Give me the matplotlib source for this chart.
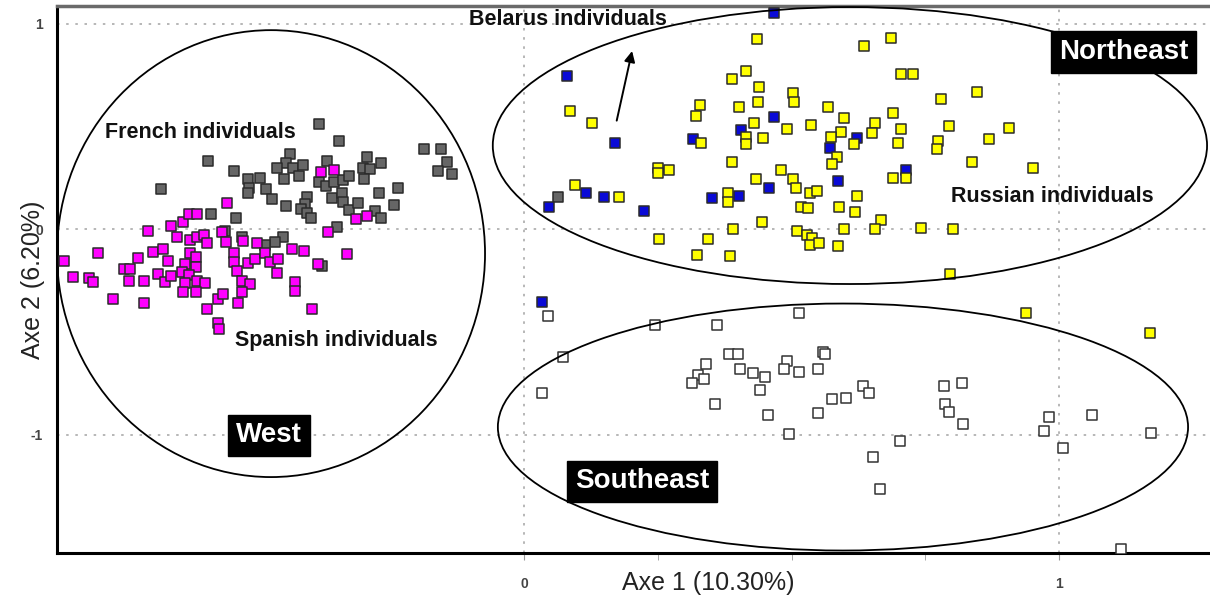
import matplotlib
matplotlib.use("Agg")
import matplotlib.pyplot as plt
from matplotlib.patches import Ellipse
import matplotlib.ticker as plticker

## Data (Axe 1 / Axe 2 scores)

french_x = [-0.383, -0.346, -0.187, -0.156, -0.144, -0.160, -0.135, -0.591, -0.543, -0.679,
            -0.437, -0.445, -0.461, -0.432, -0.414, -0.420, -0.449, -0.493, -0.516, -0.514,
            -0.516, -0.483, -0.472, -0.445, -0.406, -0.409, -0.417, -0.405, -0.398, -0.369,
            -0.383, -0.371, -0.356, -0.339, -0.328, -0.359, -0.341, -0.339, -0.327, -0.310,
            -0.294, -0.301, -0.288, -0.267, -0.299, -0.272, -0.235, -0.244, -0.279, -0.267,
            -0.349, -0.586, -0.539, -0.451, -0.465, -0.484, -0.528, -0.559, -0.378, 0.064]
french_y = [0.512, 0.431, 0.391, 0.391, 0.329, 0.284, 0.269, 0.334, 0.284, 0.195,
            0.366, 0.321, 0.297, 0.297, 0.313, 0.259, 0.243, 0.251, 0.243, 0.200,
            0.178, 0.195, 0.147, 0.113, 0.159, 0.122, 0.097, 0.081, 0.054, 0.332,
            0.232, 0.211, 0.232, 0.240, 0.259, 0.151, 0.175, 0.134, 0.094, 0.127,
            0.350, 0.297, 0.293, 0.321, 0.243, 0.178, 0.200, 0.118, 0.091, 0.054,
            0.013, 0.074, 0.054, -0.036, -0.060, -0.076, -0.036, -0.008, -0.177, 0.156]

spanish_x = [-0.860, -0.844, -0.813, -0.805, -0.796, -0.768, -0.748, -0.736, -0.738, -0.722,
             -0.710, -0.710, -0.702, -0.693, -0.674, -0.665, -0.685, -0.672, -0.659, -0.659,
             -0.648, -0.637, -0.626, -0.612, -0.624, -0.612, -0.599, -0.593, -0.624, -0.614,
             -0.614, -0.634, -0.640, -0.627, -0.612, -0.634, -0.596, -0.637, -0.614, -0.593,
             -0.573, -0.562, -0.573, -0.570, -0.556, -0.565, -0.558, -0.543, -0.542, -0.536,
             -0.528, -0.512, -0.528, -0.534, -0.526, -0.500, -0.516, -0.503, -0.485, -0.475,
             -0.460, -0.462, -0.434, -0.411, -0.428, -0.429, -0.397, -0.386, -0.366, -0.331,
             -0.314, -0.294, -0.380, -0.355]
spanish_y = [-0.154, -0.234, -0.236, -0.258, -0.117, -0.339, -0.193, -0.193, -0.252, -0.138,
             -0.252, -0.360, -0.007, -0.112, -0.096, -0.154, -0.219, -0.258, -0.227, 0.016,
             -0.036, 0.037, 0.074, 0.073, -0.052, -0.036, -0.028, -0.068, -0.117, -0.133,
             -0.182, -0.170, -0.209, -0.222, -0.252, -0.260, -0.260, -0.304, -0.304, -0.389,
             -0.341, -0.316, -0.455, -0.487, 0.127, -0.012, -0.063, -0.114, -0.158, -0.203,
             -0.252, -0.266, -0.304, -0.360, -0.057, -0.068, -0.165, -0.146, -0.117, -0.158,
             -0.146, -0.214, -0.097, -0.104, -0.255, -0.299, -0.389, -0.169, -0.015, -0.122,
             0.049, 0.065, 0.277, 0.289]

belarus_x = [0.467, 0.081, 0.169, 0.047, 0.115, 0.150, 0.225, 0.316, 0.351, 0.402,
             0.405, 0.467, 0.457, 0.571, 0.587, 0.622, 0.713, 0.033]
belarus_y = [1.054, 0.746, 0.421, 0.110, 0.178, 0.156, 0.091, 0.438, 0.151, 0.162,
             0.483, 0.548, 0.200, 0.394, 0.236, 0.443, 0.289, -0.355]

russian_x = [0.435, 0.086, 0.127, 0.095, 0.178, 0.251, 0.251, 0.271, 0.252, 0.323,
             0.344, 0.385, 0.329, 0.321, 0.331, 0.389, 0.414, 0.439, 0.437, 0.402,
             0.430, 0.414, 0.414, 0.447, 0.388, 0.382, 0.382, 0.391, 0.433, 0.445,
             0.480, 0.502, 0.505, 0.491, 0.536, 0.568, 0.597, 0.592, 0.573, 0.584,
             0.575, 0.502, 0.508, 0.535, 0.547, 0.518, 0.530, 0.589, 0.510, 0.528,
             0.538, 0.535, 0.552, 0.587, 0.598, 0.636, 0.685, 0.704, 0.727, 0.779,
             0.846, 0.690, 0.656, 0.650, 0.704, 0.698, 0.616, 0.795, 0.774, 0.771,
             0.869, 0.907, 0.838, 0.952, 0.689, 0.713, 0.622, 0.619, 0.667, 0.656,
             0.741, 0.801, 0.796, 0.939, 1.170]
russian_y = [0.925, 0.577, 0.516, 0.216, 0.156, 0.297, 0.273, 0.289, -0.049, -0.125,
             -0.049, -0.130, 0.605, 0.553, 0.421, 0.731, 0.770, 0.694, 0.621, 0.597,
             0.516, 0.451, 0.415, 0.446, 0.326, 0.178, 0.134, 0.000, 0.243, 0.037,
             0.289, 0.665, 0.621, 0.487, 0.508, 0.597, 0.540, 0.475, 0.451, 0.350,
             0.318, 0.245, 0.200, 0.178, 0.188, 0.110, 0.102, 0.110, -0.007, -0.028,
             -0.044, -0.076, -0.065, -0.081, 0.000, 0.893, 0.932, 0.754, 0.754, 0.634,
             0.667, 0.567, 0.519, 0.467, 0.488, 0.421, 0.414, 0.503, 0.431, 0.391,
             0.438, 0.494, 0.326, 0.297, 0.251, 0.248, 0.162, 0.083, 0.045, 0.000,
             0.005, 0.000, -0.219, -0.406, -0.503]

southeast_x = [0.045, 0.245, 0.361, 0.513, 0.072, 0.033, 0.340, 0.383, 0.400, 0.325,
               0.336, 0.314, 0.404, 0.427, 0.451, 0.441, 0.357, 0.456, 0.492, 0.486,
               0.513, 0.550, 0.559, 0.563, 0.496, 0.550, 0.576, 0.601, 0.633, 0.644,
               0.702, 0.653, 0.666, 0.784, 0.818, 0.786, 0.795, 0.820, 0.982, 0.972,
               1.007, 1.062, 1.172, 1.115]
southeast_y = [-0.420, -0.466, -0.466, -0.406, -0.623, -0.798, -0.657, -0.607, -0.607, -0.709,
               -0.730, -0.746, -0.680, -0.701, -0.717, -0.782, -0.850, -0.904, -0.641, -0.681,
               -0.693, -0.680, -0.596, -0.607, -0.998, -0.895, -0.826, -0.819, -0.761, -0.798,
               -1.029, -1.109, -1.264, -0.763, -0.749, -0.850, -0.888, -0.947, -0.915, -0.982,
               -1.066, -0.904, -0.990, -1.557]

# group ellipses: name, centre, width, height
region_names = ["West", "Northeast", "Southeast"]
region_centres = [(-0.473, -0.118), (0.609, 0.408), (0.596, -0.962)]
region_widths = [0.800, 1.335, 1.290]
region_heights = [2.175, 1.348, 1.202]
region_label_pos = [(-0.477, -1.003), (1.120, 0.863), (0.221, -1.227)]

## Plot

plt.rcParams['font.family'] = ['Liberation Sans', 'DejaVu Sans']
plt.rcParams['axes.unicode_minus'] = False

fig = plt.figure(figsize=(12.1, 6.01), dpi=100)
ax = fig.add_axes([57 / 1210, 48 / 601, 1153 / 1210, 547 / 601])
ax.set_xlim(-0.873, 1.282)
ax.set_ylim(-1.575, 1.087)

edge = '#2a2a2a'
msize = 44
ax.scatter(southeast_x, southeast_y, marker='s', s=msize, facecolor='white', edgecolor='#333333', linewidth=1.1, zorder=3)
ax.scatter(french_x, french_y, marker='s', s=msize, facecolor='#666666', edgecolor=edge, linewidth=1.1, zorder=3)
ax.scatter(spanish_x, spanish_y, marker='s', s=msize, facecolor='#ff00ff', edgecolor=edge, linewidth=1.1, zorder=4)
ax.scatter(belarus_x, belarus_y, marker='s', s=msize, facecolor='#0a0ad6', edgecolor=edge, linewidth=1.1, zorder=4)
ax.scatter(russian_x, russian_y, marker='s', s=msize, facecolor='#ffff00', edgecolor=edge, linewidth=1.1, zorder=5)

for c, w, h in zip(region_centres, region_widths, region_heights):
    ax.add_patch(Ellipse(c, w, h, fill=False, edgecolor='black', linewidth=1.3, zorder=6))

for name, pos in zip(region_names, region_label_pos):
    ax.text(pos[0], pos[1], name, color='white', fontsize=20, fontweight='bold',
            ha='center', va='center', zorder=8,
            bbox=dict(boxstyle='square,pad=0.28', facecolor='black', edgecolor='black'))

lab = dict(fontsize=15.5, fontweight='bold', color='#111111', va='center', ha='left', zorder=7)
ax.text(-0.783, 0.469, "French individuals", **lab)
ax.text(-0.540, -0.539, "Spanish individuals", **lab)
ax.text(-0.103, 1.023, "Belarus individuals", **lab)
ax.text(0.798, 0.159, "Russian individuals", **lab)

ax.annotate("", xy=(0.203, 0.881), xytext=(0.172, 0.516),
            arrowprops=dict(arrowstyle='-|>', color='black', lw=1.4, mutation_scale=16), zorder=7)

# grid + ticks (minor ticks only between 0 and 1, like the original)
ax.set_xticks([0, 1])
ax.set_yticks([-1, 0, 1])
ax.xaxis.set_minor_locator(plticker.FixedLocator([0.25, 0.5, 0.75]))
ax.grid(True, which='major', linestyle=(0, (1.5, 4)), color='#aaaaaa', linewidth=1.2)
ax.tick_params(axis='x', which='both', direction='out', length=5, color='#999999', pad=12,
               labelsize=10, labelcolor='#444444')
ax.tick_params(axis='y', which='both', length=0, pad=10, labelsize=10, labelcolor='#444444')
for t in ax.get_xticklabels() + ax.get_yticklabels():
    t.set_fontweight('bold')

for side in ['left', 'bottom']:
    ax.spines[side].set_linewidth(2.2)
    ax.spines[side].set_color('black')
ax.spines['top'].set_linewidth(2.5)
ax.spines['top'].set_color('#6a6a6a')
ax.spines['right'].set_visible(False)

fig.text(708 / 1210, 1 - 583 / 601, "Axe 1 (10.30%)", fontsize=18, color='#222222', ha='center', va='center')
fig.text(33 / 1210, 1 - 280 / 601, "Axe 2 (6.20%)", fontsize=18, color='#222222', ha='center', va='center', rotation=90)

fig.savefig("out.png", dpi=100)
